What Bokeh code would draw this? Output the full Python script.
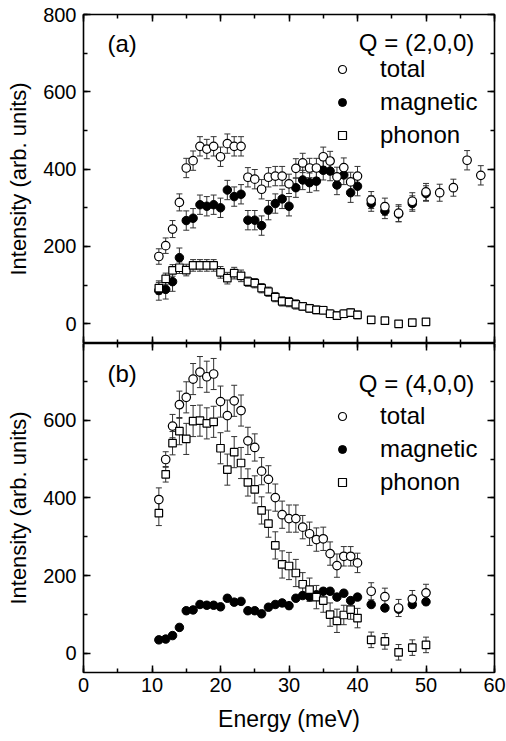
from bokeh.plotting import figure
from bokeh.layouts import column
from bokeh.models import (ColumnDataSource, Whisker, TeeHead, Legend, LegendItem, Label,
                          LinearAxis, SingleIntervalTicker, Range1d, CustomJSTickFormatter)
from bokeh.embed import file_html
from bokeh.resources import INLINE

FONT = "Liberation Sans"

# ---------------- data: panel (a) Q = (2,0,0) ----------------
a_total_E = [11, 12, 13, 14, 15, 16, 17, 18, 19, 20, 21, 22, 23, 24, 25, 26, 27, 28, 29, 30,
             31, 32, 33, 34, 35, 36, 37, 38, 39, 40, 42, 44, 46, 48, 50, 52, 54, 56, 58]
a_total = [174, 202, 245, 314, 403, 422, 459, 452, 459, 432, 466, 459, 459, 379, 374, 348, 379, 382, 382, 362,
           402, 416, 403, 403, 432, 421, 380, 404, 367, 382, 320, 303, 286, 317, 341, 339, 352, 423, 384]
a_total_err = [20, 20, 22, 22, 25, 25, 25, 25, 25, 25, 25, 25, 25, 25, 25, 25, 25, 25, 25, 25,
               25, 25, 25, 25, 25, 25, 25, 25, 25, 25, 22, 22, 22, 22, 22, 22, 22, 25, 25]

a_mag_E = [11, 12, 13, 14, 15, 16, 17, 18, 19, 20, 21, 22, 23, 24, 25, 26, 27, 28, 29, 30,
           31, 32, 33, 34, 35, 36, 37, 38, 39, 40, 42, 44, 46, 48, 50]
a_mag = [86, 89, 109, 171, 267, 273, 308, 304, 308, 300, 346, 329, 335, 268, 268, 254, 294, 311, 323, 304,
         352, 372, 365, 369, 397, 395, 359, 385, 339, 356, 311, 292, 284, 311, 337]
a_mag_err = [25, 25, 25, 25, 25, 25, 25, 25, 25, 25, 25, 25, 25, 25, 25, 25, 25, 25, 25, 25,
             25, 25, 25, 25, 25, 25, 25, 25, 25, 25, 20, 20, 20, 20, 20]

a_ph_E = [11, 12, 13, 14, 15, 16, 17, 18, 19, 20, 21, 22, 23, 24, 25, 26, 27, 28, 29, 30,
          31, 32, 33, 34, 35, 36, 37, 38, 39, 40, 42, 44, 46, 48, 50]
a_ph = [92, 116, 138, 145, 139, 151, 151, 151, 151, 133, 118, 131, 124, 109, 105, 92, 83, 69, 58, 56,
        50, 45, 40, 36, 35, 26, 21, 26, 29, 23, 10, 8, 0, 3, 5]
a_ph_err = [15, 15, 15, 15, 15, 15, 15, 15, 15, 15, 15, 15, 15, 12, 12, 12, 12, 12, 12, 12,
            12, 10, 10, 10, 10, 10, 10, 10, 10, 10, 8, 8, 8, 8, 8]

# ---------------- data: panel (b) Q = (4,0,0) ----------------
b_E = [11, 12, 13, 14, 15, 16, 17, 18, 19, 20, 21, 22, 23, 24, 25, 26, 27, 28, 29, 30,
       31, 32, 33, 34, 35, 36, 37, 38, 39, 40, 42, 44, 46, 48, 50]
b_total = [396, 499, 585, 640, 659, 706, 724, 712, 719, 648, 612, 650, 625, 547, 530, 469, 448, 401, 357, 347,
           347, 325, 308, 293, 295, 257, 226, 250, 250, 233, 160, 146, 117, 140, 156]
b_total_err = [30, 20, 30, 35, 40, 40, 40, 40, 40, 40, 40, 40, 40, 35, 35, 35, 35, 35, 35, 35,
               35, 30, 30, 30, 30, 30, 30, 25, 25, 25, 22, 22, 22, 22, 22]
b_mag = [35, 37, 46, 67, 110, 112, 126, 124, 124, 120, 142, 132, 134, 110, 110, 102, 119, 126, 130, 123,
         142, 149, 146, 151, 160, 160, 145, 155, 136, 145, 126, 117, 114, 126, 133]
b_mag_err = [8] * 35
b_ph = [361, 461, 541, 572, 552, 598, 599, 592, 596, 528, 473, 518, 490, 440, 422, 368, 334, 278, 229, 225,
        207, 178, 164, 145, 136, 100, 84, 99, 113, 91, 35, 31, 3, 15, 22]
b_ph_err = [32, 20, 30, 35, 40, 40, 40, 40, 40, 40, 40, 40, 40, 35, 35, 35, 35, 35, 35, 35,
            35, 30, 30, 30, 30, 30, 30, 25, 25, 25, 20, 20, 20, 20, 20]

x_ticks_interval = 10
y_ticks_interval = 200
legend_labels = ["total", "magnetic", "phonon"]

W = 506
H_A, TOP_A, BOT_A = 343, 14, 0
H_B, TOP_B, BOT_B = 395, 0, 66


def style_axis(ax, labels=True):
    ax.major_tick_in = 7
    ax.major_tick_out = 0
    ax.minor_tick_in = 4
    ax.minor_tick_out = 0
    ax.major_tick_line_width = 1.5
    ax.minor_tick_line_width = 1.5
    ax.major_tick_line_color = "black"
    ax.minor_tick_line_color = "black"
    ax.axis_line_color = None
    if labels:
        ax.major_label_text_font = FONT
        ax.major_label_text_font_size = "20px"
        ax.major_label_text_color = "black"
        ax.major_label_standoff = 5
    else:
        ax.formatter = CustomJSTickFormatter(code="return ''")
        ax.major_label_standoff = 0


def series(p, E, v, err):
    lo = [a - b for a, b in zip(v, err)]
    hi = [a + b for a, b in zip(v, err)]
    src = ColumnDataSource(dict(E=E, v=v, lo=lo, hi=hi))
    w = Whisker(base="E", lower="lo", upper="hi", source=src,
                line_color="#333333", line_width=1,
                upper_head=TeeHead(size=6, line_color="#333333", line_width=1),
                lower_head=TeeHead(size=6, line_color="#333333", line_width=1))
    p.add_layout(w)
    return src


def make_panel(h, btop, bbot, yr, xlabels, data, tag, qtext, qy, tagy, leg_top):
    p = figure(width=W, height=h, output_backend="svg", toolbar_location=None,
               x_range=Range1d(0, 60), y_range=yr,
               min_border_left=83, min_border_right=12,
               min_border_top=btop, min_border_bottom=bbot)
    fh = h - btop - bbot
    p.xgrid.visible = False
    p.ygrid.visible = False
    p.outline_line_color = "black"
    p.outline_line_width = 1.6
    p.background_fill_color = "white"
    p.border_fill_color = "white"

    p.xaxis.ticker = SingleIntervalTicker(interval=x_ticks_interval, num_minor_ticks=2)
    p.yaxis.ticker = SingleIntervalTicker(interval=y_ticks_interval, num_minor_ticks=2)
    style_axis(p.xaxis[0], labels=xlabels)
    style_axis(p.yaxis[0], labels=True)
    p.yaxis.major_label_standoff = 7
    p.yaxis.axis_label = "Intensity (arb. units)"
    p.yaxis.axis_label_text_font = FONT
    p.yaxis.axis_label_text_font_size = "22px"
    p.yaxis.axis_label_text_font_style = "normal"
    p.yaxis.axis_label_text_color = "black"
    p.yaxis.axis_label_standoff = 9
    if xlabels:
        p.xaxis.axis_label = "Energy (meV)"
        p.xaxis.axis_label_text_font = FONT
        p.xaxis.axis_label_text_font_size = "23px"
        p.xaxis.axis_label_text_font_style = "normal"
        p.xaxis.axis_label_text_color = "black"
        p.xaxis.axis_label_standoff = 11

    ra = LinearAxis(ticker=SingleIntervalTicker(interval=y_ticks_interval, num_minor_ticks=2))
    style_axis(ra, labels=False)
    p.add_layout(ra, "right")
    ta = LinearAxis(ticker=SingleIntervalTicker(interval=x_ticks_interval, num_minor_ticks=2))
    style_axis(ta, labels=False)
    p.add_layout(ta, "above")

    (tE, tv, te), (mE, mv, me), (pE, pv, pe) = data
    s_m = series(p, mE, mv, me)
    s_t = series(p, tE, tv, te)
    s_p = series(p, pE, pv, pe)

    r_m = p.scatter("E", "v", source=s_m, marker="circle", size=8.5,
                    fill_color="black", line_color="black", line_width=1)
    r_t = p.scatter("E", "v", source=s_t, marker="circle", size=8.5,
                    fill_color="white", line_color="black", line_width=1.2)
    r_p = p.scatter("E", "v", source=s_p, marker="square", size=7.5,
                    fill_color="white", line_color="black", line_width=1.2)

    item_h, spacing = 28, 5
    leg_h = 3 * item_h + 2 * spacing
    legend = Legend(items=[LegendItem(label=legend_labels[0], renderers=[r_t]),
                           LegendItem(label=legend_labels[1], renderers=[r_m]),
                           LegendItem(label=legend_labels[2], renderers=[r_p])],
                    location=(249, fh - leg_top - leg_h),
                    border_line_color=None, background_fill_alpha=0,
                    padding=0, margin=0, spacing=spacing,
                    glyph_width=20, glyph_height=20, label_height=item_h,
                    label_standoff=28,
                    label_text_font=FONT, label_text_font_size="24px",
                    label_text_color="black")
    p.add_layout(legend)

    p.add_layout(Label(x=3.5, y=tagy, text=tag, text_font=FONT, text_font_size="24px",
                       text_baseline="middle", text_color="black"))
    p.add_layout(Label(x=40.2, y=qy, text=qtext, text_font=FONT, text_font_size="24px",
                       text_baseline="middle", text_color="black"))
    return p


pa = make_panel(H_A, TOP_A, BOT_A, Range1d(-51, 800), False,
                ((a_total_E, a_total, a_total_err), (a_mag_E, a_mag, a_mag_err), (a_ph_E, a_ph, a_ph_err)),
                "(a)", "Q = (2,0,0)", 728, 725, 41)
pb = make_panel(H_B, TOP_B, BOT_B, Range1d(-49, 797.5), True,
                ((b_E, b_total, b_total_err), (b_E, b_mag, b_mag_err), (b_E, b_ph, b_ph_err)),
                "(b)", "Q = (4,0,0)", 695, 720, 59)

layout = column(pa, pb, spacing=0)
open("out.html", "w").write(file_html(layout, INLINE))
